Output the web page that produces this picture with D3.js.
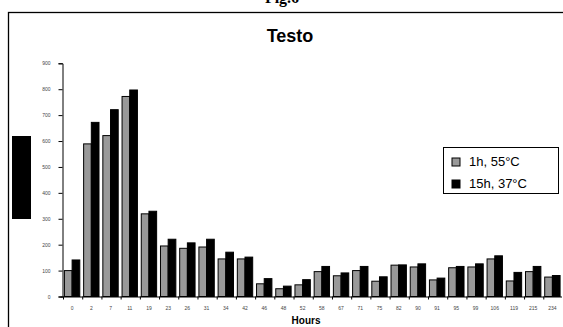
<!DOCTYPE html>
<html lang="en">
<head>
    <meta charset="UTF-8">
    <title>Testo</title>
    <script src="https://d3js.org/d3.v7.min.js"></script>
    <style>
        body, html { margin: 0; background: #fff; }
        svg { display: block; }
        text { font-family: Arial, "Liberation Sans", sans-serif; }
        .tick text { font-size: 5px; fill: #444; }
        .legend text { font-size: 13px; }
    </style>
</head>
<body>
<script>
    // hours of sampling (category labels)
    const hours = ["0", "2", "7", "11", "19", "23", "26", "31", "34", "42", "46", "48", "52",
                   "58", "67", "71", "75", "82", "90", "91", "95", "99", "106", "119", "215", "234"];
    const seriesNames = ["1h, 55°C", "15h, 37°C"];
    const series1h = [100, 589, 621, 772, 319, 195, 186, 191, 145, 145, 49, 30, 45,
                      96, 80, 100, 59, 121, 114, 64, 111, 114, 145, 60, 96, 75];
    const series15h = [141, 672, 721, 797, 329, 221, 207, 221, 171, 152, 69, 40, 65,
                       116, 91, 116, 76, 122, 126, 71, 116, 126, 157, 93, 116, 81];
    const yTicks = [0, 100, 200, 300, 400, 500, 600, 700, 800, 900];
    const colors = ["#999999", "#000000"];

    const width = 563, height = 327;
    const svg = d3.select("body").append("svg")
        .attr("width", width)
        .attr("height", height);

    // outer frame
    svg.append("rect")
        .attr("x", 8.5).attr("y", 12.5)
        .attr("width", 560).attr("height", 330)
        .attr("fill", "none")
        .attr("stroke", "#000")
        .attr("stroke-width", 1.3);

    // figure caption, cut off at the top
    svg.append("text")
        .attr("x", 282).attr("y", 3)
        .attr("text-anchor", "middle")
        .style("font-family", "'Liberation Serif', serif")
        .style("font-weight", "bold")
        .style("font-size", "16px")
        .text("Fig.6");

    svg.append("text")
        .attr("x", 290).attr("y", 42)
        .attr("text-anchor", "middle")
        .style("font-weight", "bold")
        .style("font-size", "18px")
        .text("Testo");

    const plotLeft = 62.5, plotRight = 562, plotTop = 63.3, plotBottom = 296.5;

    const x0 = d3.scaleBand()
        .domain(hours)
        .range([plotLeft, plotRight])
        .paddingInner(0.2)
        .paddingOuter(0.1);

    const x1 = d3.scaleBand()
        .domain([0, 1])
        .range([0, x0.bandwidth()]);

    const y = d3.scaleLinear()
        .domain([0, 900])
        .range([plotBottom, plotTop]);

    const data = hours.map((h, i) => ({ h: h, v: [series1h[i], series15h[i]] }));

    const groups = svg.append("g")
        .selectAll("g")
        .data(data)
        .join("g")
        .attr("transform", d => `translate(${x0(d.h)},0)`);

    groups.selectAll("rect")
        .data(d => d.v.map((v, k) => ({ k: k, v: v })))
        .join("rect")
        .attr("x", d => x1(d.k))
        .attr("y", d => y(d.v))
        .attr("width", x1.bandwidth())
        .attr("height", d => y(0) - y(d.v))
        .attr("fill", d => colors[d.k])
        .attr("stroke", "#000")
        .attr("stroke-width", 1);

    // y axis
    const yAxis = svg.append("g")
        .attr("transform", `translate(${plotLeft},0)`)
        .call(d3.axisLeft(y).tickValues(yTicks).tickSize(4).tickPadding(8));
    yAxis.select(".domain").attr("stroke", "#000");

    // x axis: ticks between the groups
    const step = x0.step();
    const xAxis = svg.append("g")
        .attr("transform", `translate(0,${plotBottom})`)
        .call(d3.axisBottom(x0).tickSize(0).tickPadding(10));
    xAxis.select(".domain").attr("d", `M${plotLeft - 2},0.5H${plotRight}`);
    xAxis.selectAll(".sep")
        .data(hours)
        .join("line")
        .attr("class", "sep")
        .attr("x1", (d, i) => plotLeft + i * step + 1)
        .attr("x2", (d, i) => plotLeft + i * step + 1)
        .attr("y1", 0).attr("y2", 3)
        .attr("stroke", "#000");

    svg.append("text")
        .attr("x", 306).attr("y", 324)
        .attr("text-anchor", "middle")
        .style("font-weight", "bold")
        .style("font-size", "10px")
        .text("Hours");

    // blacked-out y axis title
    svg.append("rect")
        .attr("x", 12).attr("y", 136)
        .attr("width", 19).attr("height", 83)
        .attr("fill", "#000");

    // legend
    const legend = svg.append("g").attr("class", "legend");
    legend.append("rect")
        .attr("x", 443.5).attr("y", 147.5)
        .attr("width", 115).attr("height", 46)
        .attr("fill", "#fff")
        .attr("stroke", "#000");
    seriesNames.forEach((name, i) => {
        const row = legend.append("g")
            .attr("transform", `translate(452,${158 + i * 22})`);
        row.append("rect")
            .attr("width", 8).attr("height", 8)
            .attr("fill", colors[i])
            .attr("stroke", "#000");
        row.append("text")
            .attr("x", 17).attr("y", 8)
            .text(name);
    });
</script>
</body>
</html>
